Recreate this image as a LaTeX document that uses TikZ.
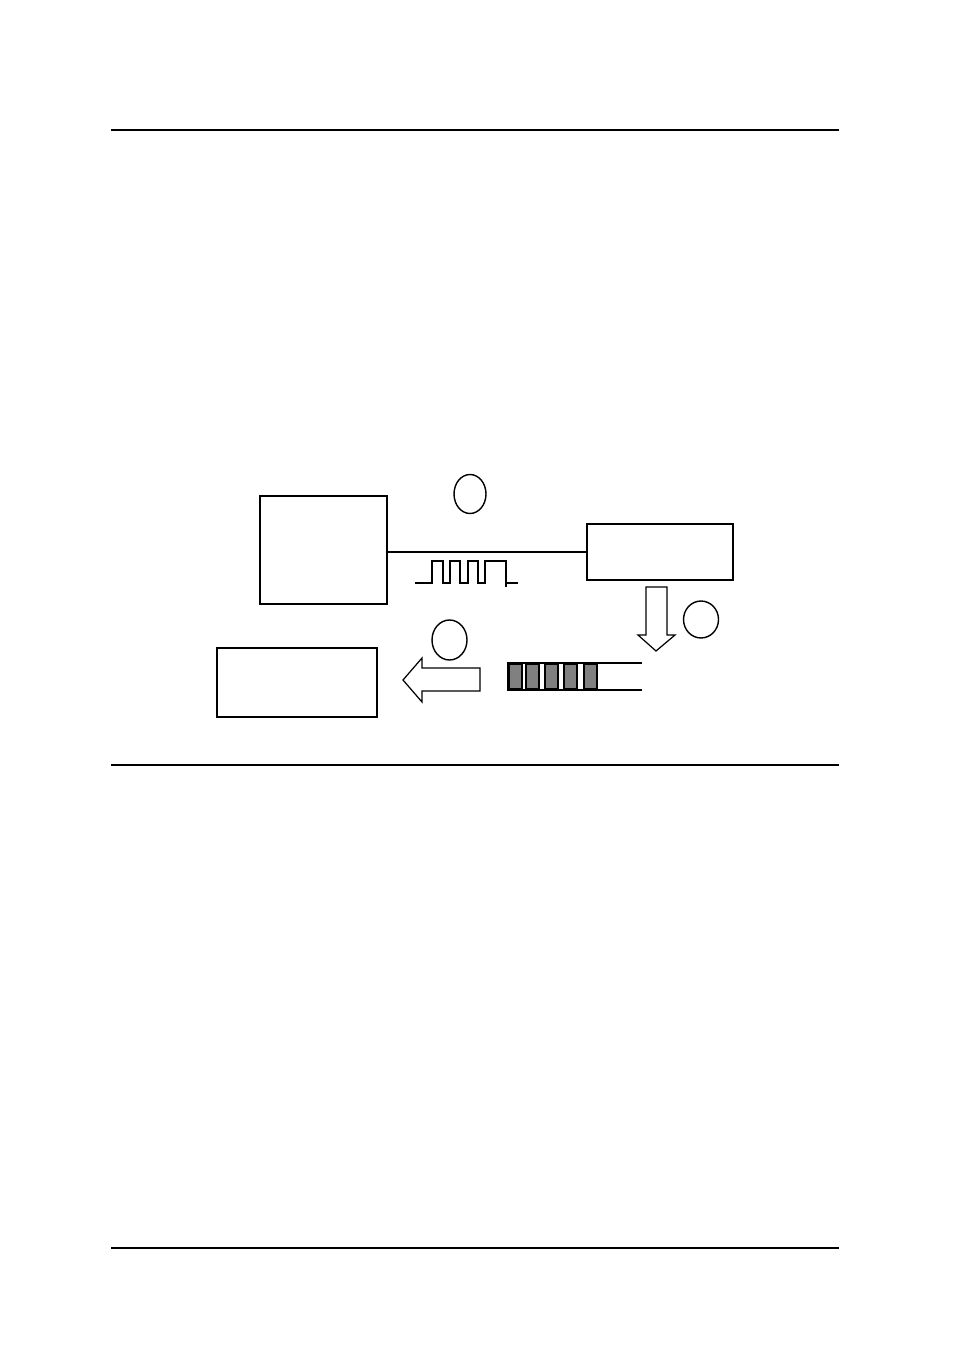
\documentclass[tikz,border=0pt]{standalone}
\usepackage{amsmath,amssymb,xcolor}
\usetikzlibrary{positioning}

\begin{document}
\begin{tikzpicture}[x=0.02cm,y=-0.02cm,line join=miter]
		\useasboundingbox (0,0) rectangle (954,1358);
		\tikzset{
			unit/.style={draw,line width=1.2pt,inner sep=0pt,outer sep=0pt},
			blockarrow/.style={draw,line width=0.7pt,fill=white},
			ring/.style={draw,line width=0.8pt},
			cell/.style={draw=black,line width=0.9pt,fill=gray}
		}
		\draw[line width=1.4pt] (111,130) -- (839,130);
		\draw[line width=1.2pt] (111,765) -- (839,765);
		\draw[line width=0.7pt] (111,1248) -- (839,1248);
		\node[unit,minimum width=2.55cm,minimum height=2.16cm] (sender) at (323.5,550) {};
		\node[unit,minimum width=2.92cm,minimum height=1.12cm] (receiver) at (660,552) {};
		\node[unit,minimum width=3.2cm,minimum height=1.38cm] (reader) at (297,682.5) {};
		\draw[line width=1.2pt] (sender.east |- receiver.west) -- (receiver.west);
		\draw[line width=0.6pt]
		(415,583) -- (432,583) -- (432,561) -- (443,561) -- (443,583)
		-- (450,583) -- (450,561) -- (460,561) -- (460,583)
		-- (468,583) -- (468,561) -- (478,561) -- (478,583)
		-- (485,583) -- (485,561) -- (506,561) -- (506,583) -- (518,583);
		\draw[line width=1.1pt] (506,561) -- (506,587);
		\draw[ring] (470,494) ellipse (16 and 19.5);
		\draw[ring] (701,619.5) ellipse (17.5 and 18.5);
		\draw[ring] (449.5,640) ellipse (17.5 and 20);
		\draw[blockarrow] (646,587) -- (667,587) -- (667,635) -- (675,635)
		-- (656,651) -- (638,635) -- (646,635) -- cycle;
		\draw[blockarrow] (480,668) -- (480,691) -- (422,691) -- (422,702)
		-- (403,680) -- (422,658) -- (422,668) -- cycle;
		\foreach \x in {509,526,545,564,584}
			\draw[cell] (\x,664) rectangle (\x+13,689);
		\draw[line width=1.6pt] (507,663) -- (642,663);
		\draw[line width=1.6pt] (507,690) -- (642,690);
		\draw[line width=1.4pt] (508.5,663) -- (508.5,690);
	\end{tikzpicture}
\end{document}
